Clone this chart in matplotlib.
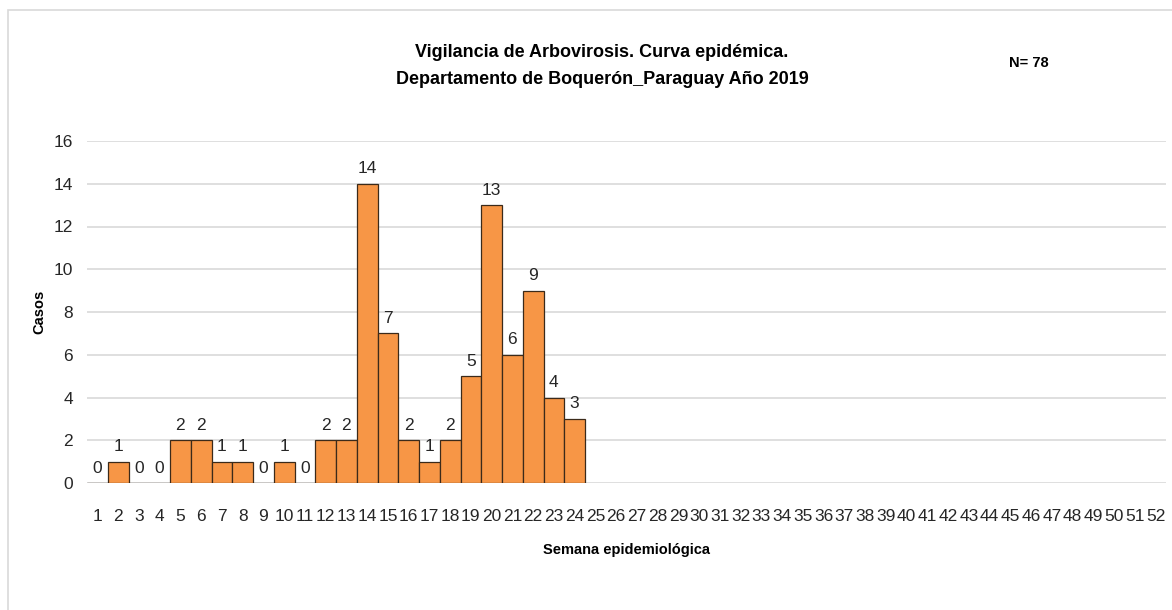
import matplotlib.pyplot as plt
import numpy as np
from matplotlib.patches import Rectangle

weeks = list(range(1, 53))
casos = [0, 1, 0, 0, 2, 2, 1, 1, 0, 1, 0, 2, 2, 14, 7, 2, 1, 2, 5, 13, 6, 9, 4, 3]
titulo = 'Vigilancia de Arbovirosis. Curva epidémica.\nDepartamento de Boquerón_Paraguay Año 2019'
total_txt = 'N= 78'
yticks = [0, 2, 4, 6, 8, 10, 12, 14, 16]

plt.rcParams['font.family'] = ['Liberation Sans Narrow', 'Liberation Sans', 'DejaVu Sans']

fig = plt.figure(figsize=(11.72, 6.10), dpi=100)
W, H = 1172, 610

# marco del grafico
fig.add_artist(Rectangle((8 / W, -0.05), 1.1, (H - 10) / H + 0.05, transform=fig.transFigure,
                         facecolor='none', edgecolor='#d9d9d9', linewidth=1.2))

ax = fig.add_axes([87 / W, 127 / H, 1079 / W, 342 / H])

x = np.arange(1, len(casos) + 1)
ax.bar(x, casos, width=1.0, color='#F79646', edgecolor='#3b2a1a', linewidth=0.9, zorder=3)

for xi, v in zip(x, casos):
    ax.text(xi, v + 0.35, str(v), ha='center', va='bottom', fontsize=12.5, color='#262626', zorder=4)

ax.set_xlim(0.5, 52.5)
ax.set_ylim(0, 16)
ax.set_xticks(weeks)
ax.set_xticklabels([str(w) for w in weeks])
ax.set_yticks(yticks)
ax.tick_params(axis='both', length=0, labelsize=12.5, colors='#262626')
ax.tick_params(axis='x', pad=18.5)
ax.tick_params(axis='y', pad=10)
ax.grid(axis='y', color='#d9d9d9', linewidth=1.2, zorder=0)
for s in ax.spines.values():
    s.set_visible(False)

ax.set_ylabel('Casos', fontsize=10.5, fontweight='bold', labelpad=5)
ax.set_xlabel('Semana epidemiológica', fontsize=10.5, fontweight='bold', labelpad=14)

fig.text(602 / W, 1 - 66 / H, titulo, ha='center', va='center', fontsize=13,
         fontweight='bold', linespacing=1.75)
fig.text(1029 / W, 1 - 63 / H, total_txt, ha='center', va='center', fontsize=10.5,
         fontweight='bold')

fig.savefig('out.png', dpi=100)
